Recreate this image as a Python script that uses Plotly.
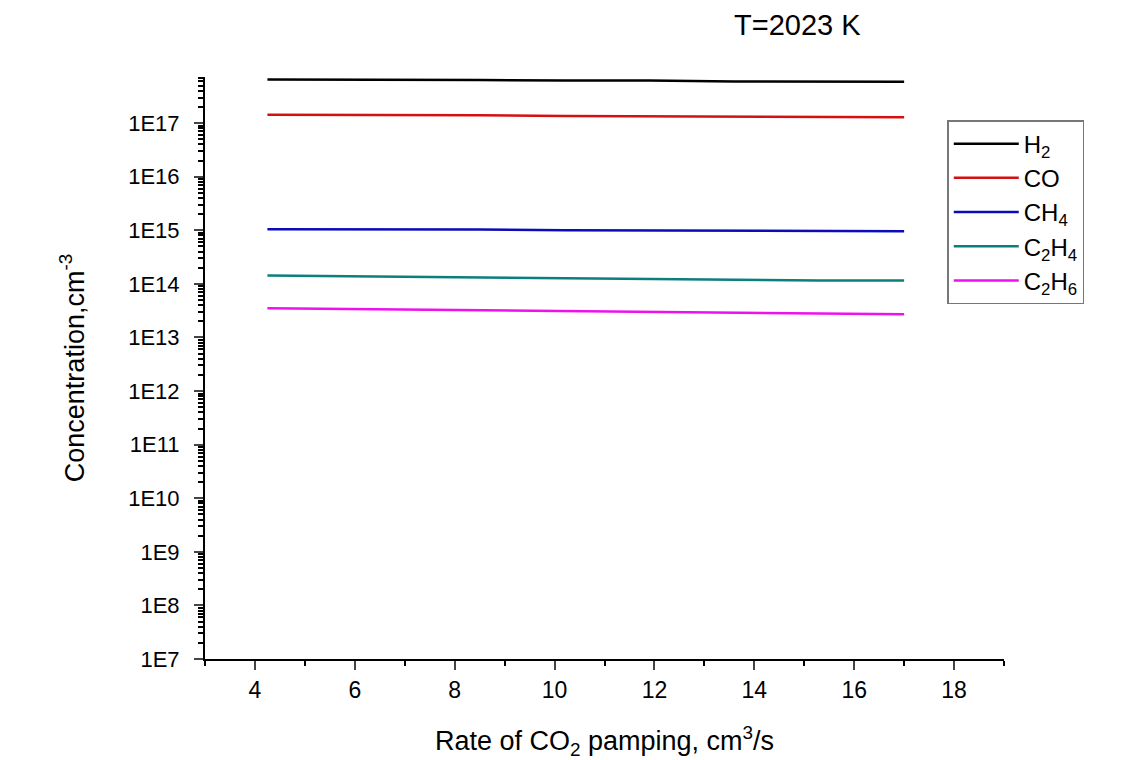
import plotly.graph_objects as go

# ---- data ----
rate = [4.25, 5.67, 7.08, 8.5, 10.2, 11.9, 13.6, 15.3, 17.0]
h2 = [6.5e17, 6.5e17, 6.5e17, 6.4e17, 6.2e17, 6.2e17, 6.0e17, 5.9e17, 5.9e17]
co = [1.43e17, 1.43e17, 1.42e17, 1.40e17, 1.36e17, 1.35e17, 1.31e17, 1.29e17, 1.28e17]
ch4 = [1.05e15, 1.05e15, 1.04e15, 1.03e15, 1.0e15, 0.99e15, 0.97e15, 0.96e15, 0.96e15]
c2h4 = [1.43e14, 1.39e14, 1.34e14, 1.29e14, 1.25e14, 1.22e14, 1.19e14, 1.16e14, 1.15e14]
c2h6 = [3.5e13, 3.4e13, 3.3e13, 3.2e13, 3.1e13, 3.0e13, 2.9e13, 2.8e13, 2.7e13]

series_names = ["H<sub>2</sub>", "CO", "CH<sub>4</sub>", "C<sub>2</sub>H<sub>4</sub>", "C<sub>2</sub>H<sub>6</sub>"]
series_values = [h2, co, ch4, c2h4, c2h6]
series_colors = ["#000000", "#d41111", "#0b0bb8", "#0b7f7c", "#ee11ee"]

y_tick_exponents = [7, 8, 9, 10, 11, 12, 13, 14, 15, 16, 17]
y_tick_labels = ["1E%d" % e for e in y_tick_exponents]
x_tick_values = [4, 6, 8, 10, 12, 14, 16, 18]
x_tick_labels = [str(v) for v in x_tick_values]

FONT = "Liberation Sans, Arial, sans-serif"

fig = go.Figure()
for name, vals, col in zip(series_names, series_values, series_colors):
    fig.add_trace(go.Scatter(x=rate, y=vals, mode="lines", name=name,
                             line=dict(color=col, width=2.5)))

y_minor = [m * 10 ** e for e in range(7, 18) for m in range(2, 10) if m * 10 ** e <= 10 ** 17.86]

fig.update_layout(
    width=1143, height=760,
    paper_bgcolor="white", plot_bgcolor="white",
    margin=dict(l=197, r=147, t=69, b=109, autoexpand=False),
    font=dict(family=FONT, color="black", size=22),
    showlegend=True,
    legend=dict(x=0.929, y=0.926, xanchor="left", yanchor="top",
                bordercolor="#777777", borderwidth=1.5, bgcolor="white",
                font=dict(size=24, family=FONT, color="black"), tracegroupgap=0,
                itemwidth=65),
    xaxis=dict(range=[3, 19], tickvals=x_tick_values, ticktext=x_tick_labels,
               ticks="outside", ticklen=9,
               tickwidth=2, showline=True, linecolor="black", linewidth=2,
               showgrid=False, zeroline=False, ticklabelstandoff=0, automargin=False,
               tickfont=dict(size=23, family=FONT, color="black"),
               minor=dict(dtick=1, tick0=3, ticks="outside", ticklen=5, tickwidth=2, tickcolor="black"),
               title=dict(text="Rate of CO<sub>2</sub> pamping, cm<sup>3</sup>/s",
                          font=dict(size=27, family=FONT, color="black"), standoff=30)),
    yaxis=dict(type="log", range=[7, 17.86],
               tickvals=[10 ** e for e in y_tick_exponents], ticktext=y_tick_labels,
               ticks="outside", ticklen=9, tickwidth=2, showline=True,
               linecolor="black", linewidth=2, showgrid=False, zeroline=False,
               ticklabelstandoff=10, automargin=False,
               tickfont=dict(size=22, family=FONT, color="black"),
               minor=dict(tickvals=y_minor, ticks="outside", ticklen=5, tickwidth=1.5, tickcolor="black"),
               title=dict(text="Concentration,cm<sup>-3</sup>",
                          font=dict(size=27, family=FONT, color="black"), standoff=36)),
    annotations=[dict(text="T=2023 K", x=0.741, y=1.09, xref="paper", yref="paper",
                      xanchor="center", yanchor="middle", showarrow=False,
                      font=dict(size=29, family=FONT, color="black"))],
)

fig.write_html("out.html")
